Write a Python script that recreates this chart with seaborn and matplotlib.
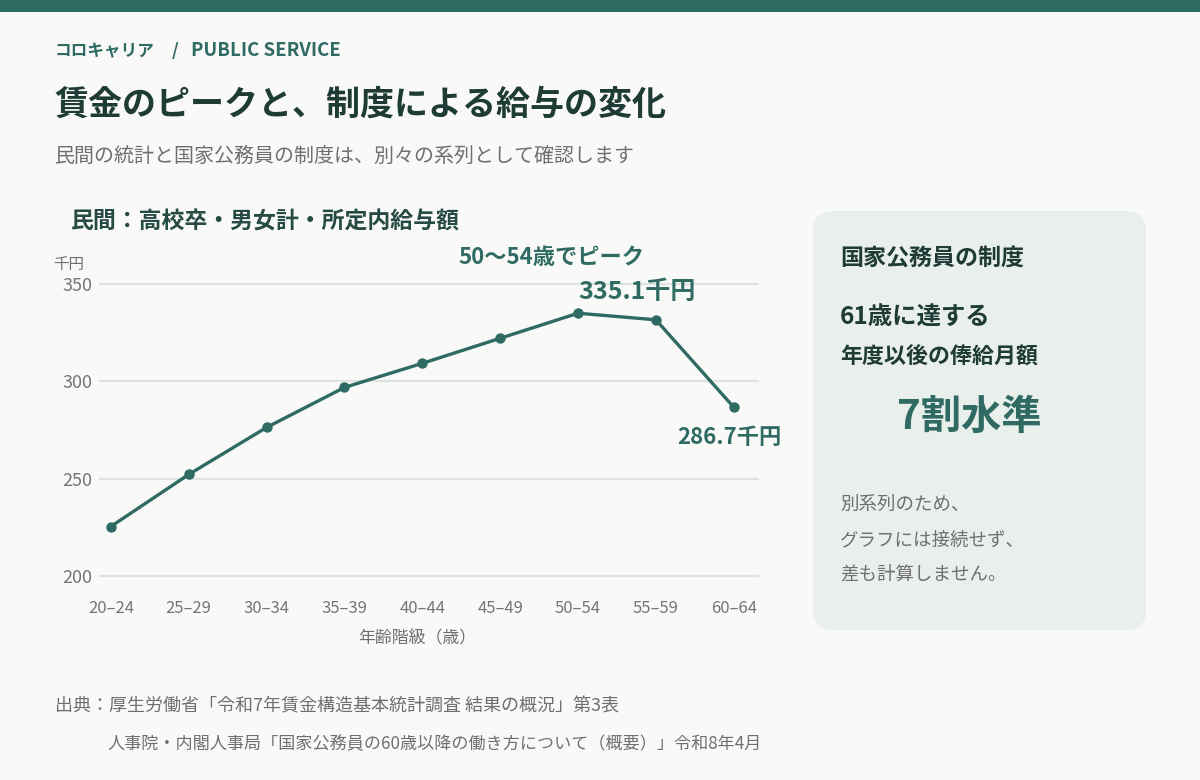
import matplotlib
matplotlib.use("Agg")
import matplotlib.pyplot as plt
from matplotlib.patches import FancyBboxPatch, Rectangle
import seaborn as sns
import pandas as pd

# ---- data ----
age_groups = ["20–24", "25–29", "30–34", "35–39", "40–44", "45–49", "50–54", "55–59", "60–64"]
wages = [225.3, 252.1, 276.3, 296.9, 309.3, 322.2, 335.1, 331.7, 286.7]
y_ticks = [200, 250, 300, 350]

header_kana = "コロキャリア"
header_sep = "/"
header_latin = "PUBLIC SERVICE"
title_text = "賃金のピークと、制度による給与の変化"
subtitle_text = "民間の統計と国家公務員の制度は、別々の系列として確認します"
chart_title = "民間：高校卒・男女計・所定内給与額"
unit_text = "千円"
xlabel_text = "年齢階級（歳）"
peak_note = "50〜54歳でピーク"
peak_label = "335.1千円"
last_label = "286.7千円"
panel_title = "国家公務員の制度"
panel_line1 = "61歳に達する"
panel_line2 = "年度以後の俸給月額"
panel_big = "7割水準"
panel_notes = ["別系列のため、", "グラフには接続せず、", "差も計算しません。"]
source1 = "出典：厚生労働省「令和7年賃金構造基本統計調査 結果の概況」第3表"
source2 = "人事院・内閣人事局「国家公務員の60歳以降の働き方について（概要）」令和8年4月"

# ---- style ----
sns.set_theme(style="white")
plt.rcParams['font.family'] = ['Noto Sans CJK JP', 'DejaVu Sans']

BG = "#f9faf8"
TEAL = "#2f6b63"
DARK = "#1f3b36"
GRAY = "#6f6f6f"
GRID = "#dde4e0"
PANEL = "#e9efea"

W, H = 1200, 780
fig = plt.figure(figsize=(12, 7.8), dpi=100, facecolor=BG)

def fx(px):
    return px / W

def fy(py):
    return 1 - py / H

# top bar
fig.patches.append(Rectangle((0, fy(12)), 1, 12 / H, transform=fig.transFigure,
                             facecolor=TEAL, edgecolor="none", zorder=0))

# header texts
fig.text(fx(55), fy(51), header_kana, fontsize=12, fontweight="bold", color=TEAL, va="center", ha="left")
fig.text(fx(172), fy(51), header_sep, fontsize=12.5, fontweight="bold", color=TEAL, va="center", ha="left")
fig.text(fx(191), fy(51), header_latin, fontsize=13.4, fontweight="bold", color=TEAL, va="center", ha="left")
fig.text(fx(55), fy(104), title_text, fontsize=24.5, fontweight="bold", color=DARK, va="center", ha="left")
fig.text(fx(55), fy(156), subtitle_text, fontsize=14.4, color=GRAY, va="center", ha="left")
fig.text(fx(70), fy(222), chart_title, fontsize=16.5, fontweight="bold", color="#264a44", va="center", ha="left")
fig.text(fx(53), fy(265), unit_text, fontsize=11.2, color=GRAY, va="center", ha="left")

# ---- chart ----
ax_left, ax_right = 99, 759
ax_top, ax_bottom = 280, 585
ax = fig.add_axes([fx(ax_left), fy(ax_bottom), (ax_right - ax_left) / W, (ax_bottom - ax_top) / H])
ax.set_facecolor(BG)

df = pd.DataFrame({"pos": list(range(len(age_groups))), "wage": wages})
sns.lineplot(data=df, x="pos", y="wage", ax=ax, color=TEAL, linewidth=2.4,
             marker="o", markersize=7.5, markeredgewidth=0, markerfacecolor=TEAL, zorder=3)

ax.set_xlim(-0.152, 8.324)
ax.set_ylim(195.2, 352.2)
ax.set_yticks(y_ticks)
ax.set_yticklabels([str(v) for v in y_ticks])
ax.set_xticks(range(len(age_groups)))
ax.set_xticklabels(age_groups)
ax.yaxis.grid(True, color=GRID, linewidth=1.6)
ax.xaxis.grid(False)
for s in ax.spines.values():
    s.set_visible(False)
ax.tick_params(axis="y", length=0, pad=5, labelsize=13, labelcolor="#757575")
ax.tick_params(axis="x", length=0, pad=10.5, labelsize=12, labelcolor="#757575")
ax.set_xlabel("")
ax.set_ylabel("")

# annotations
peak_i = wages.index(max(wages))
ax.annotate(peak_note, xy=(peak_i, wages[peak_i]), xytext=(-19.4, 40.3), textcoords="offset points",
            ha="center", va="center", fontsize=16, fontweight="bold", color=TEAL, annotation_clip=False)
ax.annotate(peak_label, xy=(peak_i, wages[peak_i]), xytext=(0, 15.5), textcoords="offset points",
            ha="left", va="center", fontsize=18, fontweight="bold", color=TEAL, annotation_clip=False)
last_i = len(wages) - 1
ax.annotate(last_label, xy=(last_i, wages[last_i]), xytext=(-3, -21.6), textcoords="offset points",
            ha="center", va="center", fontsize=16, fontweight="bold", color=TEAL, annotation_clip=False)

fig.text(fx(417), fy(637), xlabel_text, fontsize=12.2, color=GRAY, va="center", ha="center")

# ---- right panel ----
px0, px1, py0, py1 = 813, 1146, 211, 630
r = 20
panel = FancyBboxPatch((fx(px0 + r), fy(py1 - r)), (px1 - px0 - 2 * r) / W, (py1 - py0 - 2 * r) / H,
                       boxstyle=f"round,pad={r / W},rounding_size={r / W}",
                       transform=fig.transFigure, facecolor=PANEL, edgecolor="none",
                       mutation_aspect=W / H, zorder=0)
fig.patches.append(panel)

fig.text(fx(840), fy(258), panel_title, fontsize=16.6, fontweight="bold", color=DARK, va="center", ha="left")
fig.text(fx(840), fy(317), panel_line1, fontsize=17.6, fontweight="bold", color=DARK, va="center", ha="left")
fig.text(fx(840), fy(356), panel_line2, fontsize=15.8, fontweight="bold", color=DARK, va="center", ha="left")
fig.text(fx(969), fy(417), panel_big, fontsize=29, fontweight="bold", color=TEAL, va="center", ha="center")
for i, line in enumerate(panel_notes):
    fig.text(fx(840), fy(505 + 35 * i), line, fontsize=13.3, color=GRAY, va="center", ha="left")

# ---- footer ----
fig.text(fx(55), fy(706), source1, fontsize=13, color=GRAY, va="center", ha="left")
fig.text(fx(107), fy(744), source2, fontsize=12.3, color=GRAY, va="center", ha="left")

fig.savefig("out.png", dpi=100, facecolor=BG)
